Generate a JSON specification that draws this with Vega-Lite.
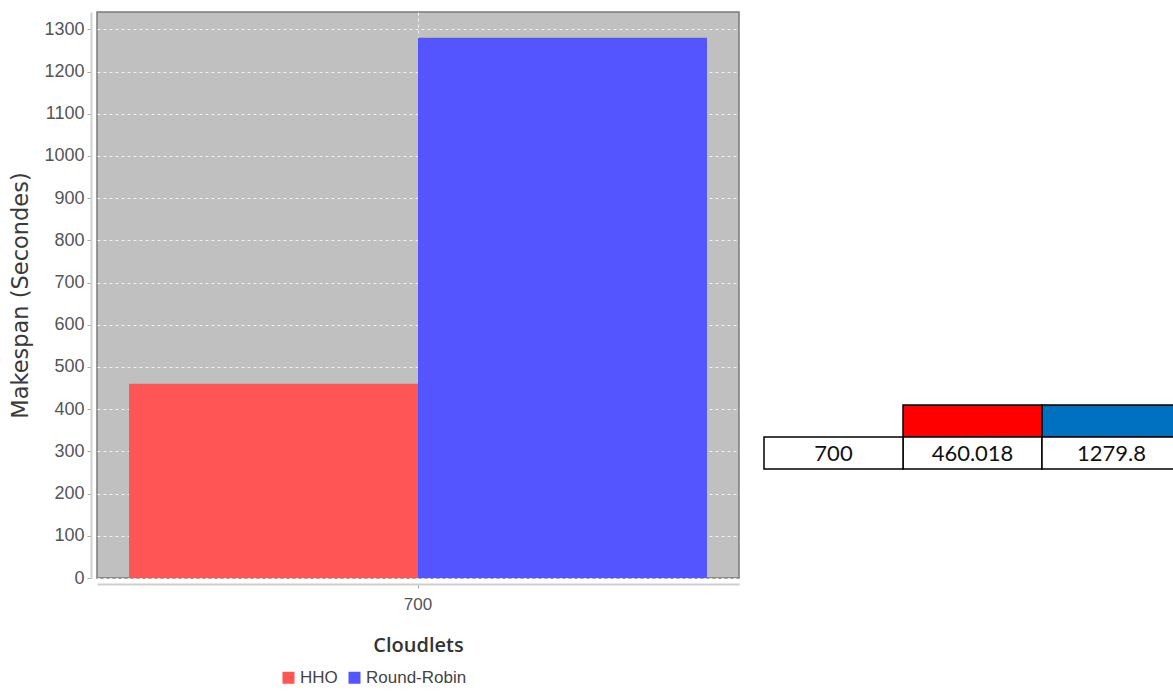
{
  "$schema": "https://vega.github.io/schema/vega-lite/v6.json",
  "background": "white",
  "padding": {"left": 9, "top": 11, "right": 0, "bottom": 0},
  "data": {
    "values": [
      {"cloudlets": "700", "series": "HHO", "makespan": 460.018},
      {"cloudlets": "700", "series": "Round-Robin", "makespan": 1279.8}
    ]
  },
  "spacing": 23,
  "hconcat": [
    {
      "width": 642,
      "height": 566,
      "view": {"fill": "#c0c0c0", "stroke": "#7a7a7a", "strokeWidth": 1.5},
      "mark": {"type": "bar"},
      "encoding": {
        "x": {
          "field": "cloudlets",
          "type": "nominal",
          "title": "Cloudlets",
          "scale": {"paddingInner": 0, "paddingOuter": 0.0554},
          "axis": {
            "offset": 6,
            "labelAngle": 0,
            "bandPosition": 0.5,
            "grid": true,
            "gridColor": "white",
            "gridDash": [3, 3],
            "gridOpacity": 0.8,
            "domainColor": "#cfcfcf",
            "domainWidth": 2,
            "tickColor": "#aaaaaa",
            "tickSize": 4,
            "labelFont": "Liberation Sans",
            "labelFontSize": 17,
            "labelColor": "#555555",
            "labelPadding": 8,
            "titleFont": "Open Sans",
            "titleFontSize": 20,
            "titleFontWeight": 600,
            "titleColor": "#333333",
            "titlePadding": 23
          }
        },
        "xOffset": {"field": "series", "type": "nominal", "scale": {"paddingInner": 0}},
        "y": {
          "field": "makespan",
          "type": "quantitative",
          "title": "Makespan (Secondes)",
          "scale": {"domain": [0, 1341], "nice": false},
          "axis": {
            "offset": 6,
            "format": "d",
            "values": [0, 100, 200, 300, 400, 500, 600, 700, 800, 900, 1000, 1100, 1200, 1300],
            "grid": true,
            "gridColor": "white",
            "gridDash": [3, 3],
            "gridOpacity": 0.8,
            "domainColor": "#cfcfcf",
            "domainWidth": 2,
            "tickColor": "#aaaaaa",
            "tickSize": 4,
            "labelFont": "Liberation Sans",
            "labelFontSize": 18,
            "labelColor": "#555555",
            "labelPadding": 3,
            "titleFont": "DejaVu Sans",
            "titleFontSize": 22.5,
            "titleFontWeight": "normal",
            "titleColor": "#3a3a3a",
            "titlePadding": 11
          }
        },
        "color": {
          "field": "series",
          "type": "nominal",
          "scale": {"domain": ["HHO", "Round-Robin"], "range": ["#ff5555", "#5555ff"]},
          "legend": {
            "orient": "none",
            "legendX": 183,
            "legendY": 657,
            "direction": "horizontal",
            "title": null,
            "symbolType": "square",
            "symbolSize": 144,
            "symbolOpacity": 1,
            "symbolStrokeWidth": 0,
            "labelFont": "Liberation Sans",
            "labelFontSize": 17,
            "labelColor": "#444444",
            "labelOffset": 3,
            "columnPadding": 8
          }
        }
      }
    },
    {
      "width": 417,
      "height": 566,
      "view": {"stroke": null},
      "layer": [
        {
          "mark": {"type": "rect", "stroke": "black", "strokeWidth": 1.5},
          "encoding": {
            "x": {
              "field": "series",
              "type": "nominal",
              "scale": {"domain": ["Cloudlets", "HHO", "Round-Robin"], "paddingInner": 0, "paddingOuter": 0},
              "axis": null
            },
            "y": {
              "datum": "head",
              "type": "nominal",
              "scale": {"domain": ["head", "val"], "range": [393, 457], "paddingInner": 0, "paddingOuter": 0},
              "axis": null
            },
            "fill": {
              "field": "series",
              "type": "nominal",
              "scale": {"domain": ["HHO", "Round-Robin"], "range": ["#ff0000", "#0070c0"]},
              "legend": null
            }
          }
        },
        {
          "mark": {"type": "rect", "stroke": "black", "strokeWidth": 1.5, "fill": "white"},
          "encoding": {
            "x": {"field": "series", "type": "nominal"},
            "y": {"datum": "val", "type": "nominal"}
          }
        },
        {
          "transform": [{"filter": "datum.series === 'HHO'"}],
          "mark": {"type": "rect", "stroke": "black", "strokeWidth": 1.5, "fill": "white"},
          "encoding": {
            "x": {"datum": "Cloudlets", "type": "nominal"},
            "y": {"datum": "val", "type": "nominal"}
          }
        },
        {
          "mark": {"type": "text", "font": "Lato", "fontSize": 22, "color": "#111111", "baseline": "middle", "dy": 1},
          "encoding": {
            "x": {"field": "series", "type": "nominal", "bandPosition": 0.5},
            "y": {"datum": "val", "type": "nominal", "bandPosition": 0.5},
            "text": {"field": "makespan", "type": "nominal"}
          }
        },
        {
          "transform": [{"filter": "datum.series === 'HHO'"}],
          "mark": {"type": "text", "font": "Lato", "fontSize": 22, "color": "#111111", "baseline": "middle", "dy": 1},
          "encoding": {
            "x": {"datum": "Cloudlets", "type": "nominal", "bandPosition": 0.5},
            "y": {"datum": "val", "type": "nominal", "bandPosition": 0.5},
            "text": {"field": "cloudlets", "type": "nominal"}
          }
        }
      ]
    }
  ],
  "resolve": {
    "scale": {"color": "independent", "fill": "independent"},
    "legend": {"color": "independent", "fill": "independent"}
  }
}
